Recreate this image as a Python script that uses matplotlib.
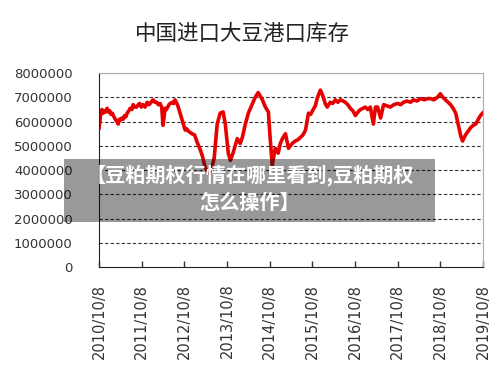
import matplotlib
matplotlib.use("Agg")
import matplotlib.pyplot as plt
from matplotlib.patches import Rectangle

plt.rcParams['font.family'] = ['Noto Sans CJK SC', 'DejaVu Sans']

title = "中国进口大豆港口库存"
banner_text = "【豆粕期权行情在哪里看到,豆粕期权\n怎么操作】"
tick_labels = ["2010/10/8", "2011/10/8", "2012/10/8", "2013/10/8", "2014/10/8",
               "2015/10/8", "2016/10/8", "2017/10/8", "2018/10/8", "2019/10/8"]
yticks = [0, 1000000, 2000000, 3000000, 4000000, 5000000, 6000000, 7000000, 8000000]

# years since 2010/10/8
t = [0.00, 0.04, 0.07, 0.10, 0.12, 0.16, 0.19, 0.22, 0.25, 0.28, 0.31, 0.35, 0.38, 0.42,
     0.45, 0.48, 0.50, 0.54, 0.57, 0.60, 0.63, 0.66, 0.70, 0.73, 0.77, 0.80, 0.84,
     0.88, 0.92, 0.95, 0.99, 1.03, 1.08, 1.13, 1.17, 1.20, 1.24, 1.27, 1.31, 1.35, 1.39,
     1.43, 1.47, 1.50, 1.55, 1.58, 1.61, 1.64, 1.67,
     1.72, 1.75, 1.78, 1.84, 1.90, 1.96, 2.02, 2.06, 2.10, 2.14, 2.18, 2.24, 2.30, 2.36,
     2.42, 2.49, 2.56,
     2.63, 2.70, 2.77, 2.84, 2.91, 2.96, 3.03, 3.08, 3.15, 3.20, 3.24, 3.31, 3.36, 3.43,
     3.50, 3.55, 3.59, 3.66, 3.73, 3.78, 3.83, 3.90, 3.97, 4.01, 4.06, 4.13, 4.20, 4.25,
     4.30, 4.37, 4.44, 4.53, 4.60, 4.66, 4.72, 4.78, 4.84, 4.91, 4.96, 5.02, 5.07, 5.12,
     5.19, 5.26, 5.30, 5.35, 5.42, 5.48, 5.54, 5.60, 5.66, 5.72, 5.77, 5.83, 5.89, 5.95,
     6.01, 6.07, 6.13, 6.19, 6.24, 6.30, 6.36, 6.43, 6.48, 6.53, 6.60, 6.67, 6.75, 6.83,
     6.91, 7.00, 7.07, 7.14, 7.22, 7.30, 7.37, 7.45, 7.54, 7.62, 7.70, 7.77, 7.85, 7.93,
     8.00, 8.06, 8.12, 8.18, 8.24, 8.30, 8.36, 8.43, 8.48, 8.52, 8.56, 8.59, 8.65, 8.71,
     8.77, 8.83, 8.89, 8.94, 8.99]
stock = [5.73, 6.30, 6.50, 6.35, 6.45, 6.40, 6.55, 6.40, 6.45, 6.30, 6.35, 6.20, 6.10, 6.00,
         5.90, 6.10, 6.05, 6.15, 6.10, 6.25, 6.20, 6.35, 6.45, 6.55, 6.50, 6.70, 6.60,
         6.60, 6.70, 6.75, 6.60, 6.70, 6.60, 6.80, 6.70, 6.75, 6.85, 6.90, 6.80, 6.80, 6.70,
         6.75, 6.60, 5.85, 6.55, 6.50, 6.60, 6.70, 6.75,
         6.80, 6.75, 6.90, 6.70, 6.35, 6.00, 5.65, 5.70, 5.60, 5.55, 5.50, 5.45, 5.15, 4.90,
         4.60, 4.10, 3.90,
         4.00, 4.50, 5.90, 6.35, 6.40, 5.90, 4.70, 4.40, 4.75, 5.05, 5.30, 5.10, 5.35, 5.90,
         6.35, 6.55, 6.70, 7.00, 7.20, 7.05, 6.90, 6.60, 6.40, 5.35, 4.20, 4.90, 4.70, 5.10,
         5.30, 5.50, 4.90, 5.10, 5.20, 5.25, 5.35, 5.45, 5.65, 6.35, 6.30, 6.50, 6.65, 7.00,
         7.30, 7.00, 6.75, 6.60, 6.80, 6.75, 6.90, 6.80, 6.90, 6.85, 6.80, 6.70, 6.55, 6.45,
         6.25, 6.40, 6.50, 6.55, 6.60, 6.50, 6.60, 5.90, 6.60, 6.60, 6.15, 6.70, 6.65, 6.60,
         6.70, 6.75, 6.70, 6.80, 6.85, 6.80, 6.90, 6.85, 6.95, 6.90, 6.95, 6.95, 6.90, 7.00,
         7.15, 7.00, 6.90, 6.80, 6.70, 6.55, 6.35, 5.80, 5.40, 5.20, 5.35, 5.45, 5.60, 5.75,
         5.85, 5.90, 6.10, 6.25, 6.35]

fig = plt.figure(figsize=(5.0, 3.81), dpi=100)
ax = fig.add_axes([0.198, 0.299, 0.768, 0.509])

ax.plot(t, [v * 1e6 for v in stock], color='#e60000', linewidth=2.6, solid_joinstyle='round')

ax.set_xlim(0, 9)
ax.set_ylim(0, 8000000)
ax.set_yticks(yticks)
ax.set_yticklabels([str(v) for v in yticks], fontsize=9.5, color='#333333',
                   family=['DejaVu Sans'])
ax.set_xticks(range(len(tick_labels)))
ax.set_xticklabels(tick_labels, rotation=90, fontsize=10.5, color='#333333',
                   family=['DejaVu Sans'])
ax.tick_params(axis='y', length=0, pad=19)
ax.tick_params(axis='x', direction='in', length=4, width=1, color='#333333', pad=12)

for v in yticks[1:]:
    ax.axhline(v, color='#333333', linestyle=(0, (3, 2)), linewidth=0.8, zorder=0)

ax.spines['left'].set_color('#222222')
ax.spines['bottom'].set_color('#222222')
ax.spines['top'].set_color('#aaaaaa')
ax.spines['right'].set_color('#aaaaaa')

fig.text(242 / 500, 1 - 34 / 381, title, ha='center', va='center', fontsize=15.5, color='#222222')

rect = Rectangle((64 / 500, 1 - 222 / 381), (435 - 64) / 500, (222 - 159) / 381,
                 transform=fig.transFigure, facecolor='black', alpha=0.40,
                 edgecolor='none', zorder=10)
fig.patches.append(rect)
fig.text(250 / 500, 1 - 189 / 381, banner_text, ha='center', va='center', fontsize=14.5,
         fontweight='bold', color='white', linespacing=1.35, zorder=11)

fig.savefig('out.png', dpi=100)
